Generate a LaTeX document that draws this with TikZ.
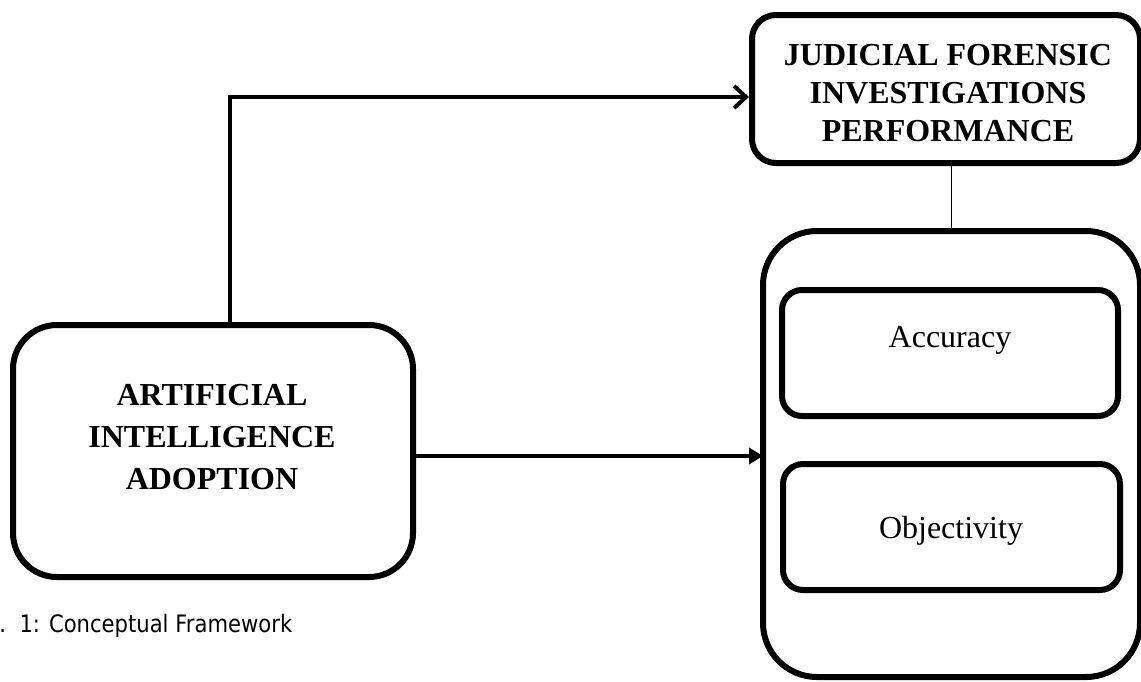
\documentclass[tikz,border=0pt]{standalone}
\usepackage{fontspec}
\setmainfont{Liberation Serif}
\newfontfamily\captionfont[FakeStretch=0.88]{DejaVu Sans}
\usetikzlibrary{arrows.meta}
\begin{document}
\begin{tikzpicture}[x=0.5pt,y=-0.5pt,
        frame/.style={draw,line width=3pt,rounded corners=#1,inner sep=0pt},
        frame/.default=12pt,
        heading/.style={align=center,font=\bfseries\fontsize{16}{#1}\selectfont},
        item/.style={anchor=base,font=\fontsize{16}{19}\selectfont},
        link/.style={line width=2pt}]
        \useasboundingbox (0,0) rectangle (1141,681);
        \node[frame=22pt,minimum width=200pt,minimum height=126pt] (ai) at (213,451) {};
        \node[frame=12pt,minimum width=194pt,minimum height=74pt] (jfip) at (946,89) {};
        \node[frame=27pt,minimum width=188.5pt,minimum height=223pt] (dims) at (951.5,454) {};
        \node[frame=10pt,minimum width=168pt,minimum height=63pt] (acc) at (950,353) {};
        \node[frame=10pt,minimum width=168.5pt,minimum height=63pt] (obj) at (951.5,527) {};
        \node[heading=21] (ailabel) at (212,437) {ARTIFICIAL\\INTELLIGENCE\\ADOPTION};
        \node[heading=19] (jfiplabel) at (948,93) {JUDICIAL FORENSIC\\INVESTIGATIONS\\PERFORMANCE};
        \node[item] (acclabel) at (950,347) {Accuracy};
        \node[item] (objlabel) at (951,538) {Objectivity};
        \node[anchor=base west,inner sep=0pt,font=\captionfont\fontsize{12}{14}\selectfont] (caption) at (-1,632) {.\ \ 1: Conceptual Framework};
        \coordinate (turn) at (230,97);
        \coordinate (entry) at (763,456);
        \draw[link,-{Straight Barb[length=6pt,width=11pt,line width=2pt]}] (ai.north -| turn) -- (turn) -- (turn -| jfip.west);
        \draw[link,-{Triangle[length=7pt,width=8pt]}] (ai.east |- entry) -- (entry);
        \draw[line width=0.7pt] (dims.north |- jfip.south) -- (dims.north);
    \end{tikzpicture}
\end{document}
